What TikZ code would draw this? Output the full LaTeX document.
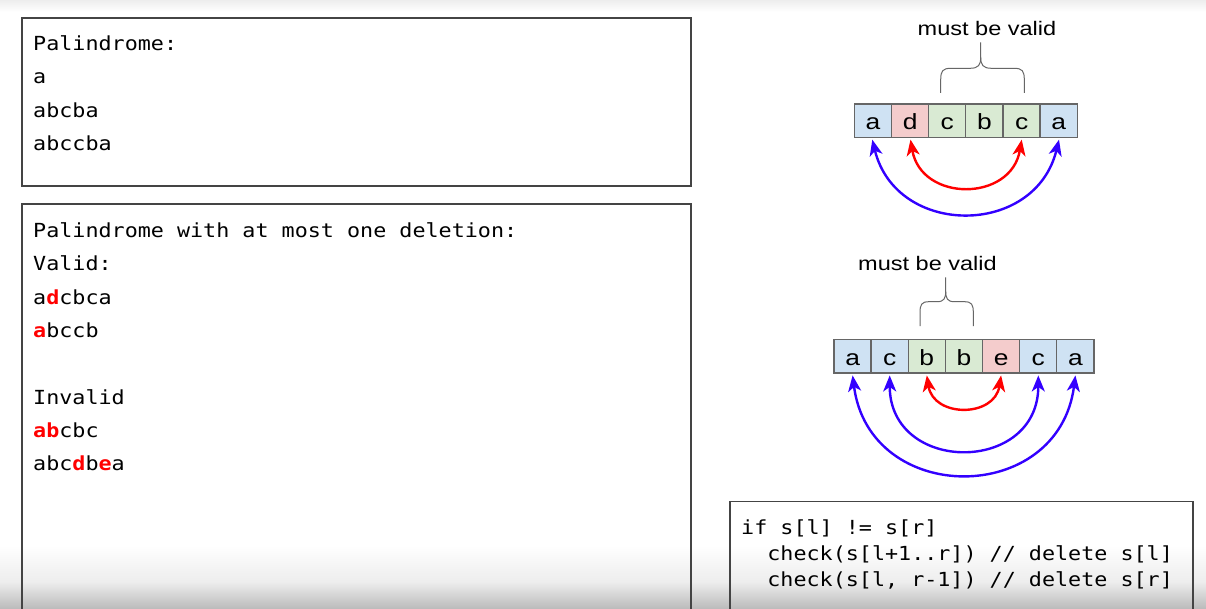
\documentclass[tikz,border=0pt]{standalone}
\usepackage{fontspec}
\usetikzlibrary{arrows.meta,calc}
\newfontfamily\monof[FakeStretch=1.12]{DejaVu Sans Mono}
\newfontfamily\arf[FakeStretch=1.2]{Liberation Sans}
\definecolor{boxline}{HTML}{444444}
\definecolor{cblue}{HTML}{CFE2F3}
\definecolor{cpink}{HTML}{F4CCCC}
\definecolor{cgreen}{HTML}{D9EAD3}
\definecolor{cellline}{HTML}{666666}
\definecolor{arrblue}{HTML}{3300FF}
\definecolor{arrred}{HTML}{FF0000}
\definecolor{bracec}{HTML}{666666}
\newcommand\ssp{\hphantom{0}}
\newcommand\hl[1]{{\bfseries\color{arrred}#1}}
\begin{document}
\begin{tikzpicture}[x=1pt,y=-1pt,
  mtxt/.style={anchor=base west, inner sep=0pt, font=\monof\fontsize{19.4}{22}\selectfont},
  boxl/.style={draw=boxline, line width=1.3pt},
  cell/.style={draw=cellline, line width=1.3pt, minimum width=37.17pt, minimum height=33.3pt,
    inner sep=0pt, text height=18pt, text depth=0pt, font=\arf\fontsize{22}{24}\selectfont},
  lbl/.style={anchor=base, inner sep=0pt, font=\arf\fontsize{19.6}{22}\selectfont},
  arrow tips/.style={{Stealth[length=16pt,width=13pt,inset=4.5pt]}-{Stealth[length=16pt,width=13pt,inset=4.5pt]}},
  blarr/.style={draw=arrblue, line width=2.4pt, arrow tips},
  rdarr/.style={draw=arrred, line width=2.4pt, arrow tips},
  bracel/.style={draw=bracec, line width=1pt}
]
\useasboundingbox (0,0) rectangle (1206,609);
\fill[white] (0,0) rectangle (1206,609);
\shade[top color=black!7, bottom color=white] (0,0) rectangle (1206,12);
\shade[top color=white, bottom color=black!7] (0,545) rectangle (1206,582);
\shade[top color=black!7, bottom color=black!27] (0,582) rectangle (1206,609);

% box 1
\draw[boxl] (22,18) rectangle (691,186);
\node[mtxt] (p1) at (33,50.7) {Palindrome:};
\node[mtxt] (p2) at (33,84) {a};
\node[mtxt] (p3) at (33,117.3) {abcba};
\node[mtxt] (p4) at (33,150.6) {abccba};

% box 2
\draw[boxl] (22,609) -- (22,204) -- (691,204) -- (691,609);
\node[mtxt] (q1) at (33,237.7) {Palindrome\ssp with\ssp at\ssp most\ssp one\ssp deletion:};
\node[mtxt] (q2) at (33,271) {Valid:};
\node[mtxt] (q3) at (33,304.3) {a\hl{d}cbca};
\node[mtxt] (q4) at (33,337.6) {\hl{a}bccb};
\node[mtxt] (q5) at (33,404.2) {Invalid};
\node[mtxt] (q6) at (33,437.5) {\hl{ab}cbc};
\node[mtxt] (q7) at (33,470.8) {abc\hl{d}b\hl{e}a};

% code box
\draw[boxl] (730,609) -- (730,501.7) -- (1193,501.7) -- (1193,609);
\node[mtxt] (c1) at (741,534) {if\ssp s[l]\ssp !=\ssp s[r]};
\node[mtxt] (c2) at (741,560) {\ssp\ssp check(s[l+1..r])\ssp //\ssp delete\ssp s[l]};
\node[mtxt] (c3) at (741,586) {\ssp\ssp check(s[l,\ssp r-1])\ssp //\ssp delete\ssp s[r]};

% top array
\node[cell, fill=cblue]  (t1) at (872.9,120.65) {a};
\node[cell, fill=cpink]  (t2) at (910.1,120.65) {d};
\node[cell, fill=cgreen] (t3) at (947.2,120.65) {c};
\node[cell, fill=cgreen] (t4) at (984.4,120.65) {b};
\node[cell, fill=cgreen] (t5) at (1021.6,120.65) {c};
\node[cell, fill=cblue]  (t6) at (1058.7,120.65) {a};
\node[lbl] (tl) at (987,36) {must be valid};
\draw[bracel] (940.7,93) -- (940.7,80) .. controls (940.7,71) and (942.5,68.3) .. (951,68.3)
  -- (970,68.3) .. controls (978.5,68.3) and (980.7,65) .. (980.7,57) -- (980.7,42.3);
\draw[bracel] (1024.3,93) -- (1024.3,80) .. controls (1024.3,71) and (1022.5,68.3) .. (1014,68.3)
  -- (991.5,68.3) .. controls (983,68.3) and (980.7,65) .. (980.7,57);
\draw[rdarr] ($(t2.south)+(0.4,1.7)$) .. controls +(10.7,62.6) and +(-10.7,62.6) .. ($(t5.south)+(0.1,1.7)$);
\draw[blarr] ($(t1.south)+(-0.6,1.7)$) .. controls +(23.8,97.8) and +(-23.8,97.8) .. ($(t6.south)+(0.3,1.7)$);

% bottom array
\node[cell, fill=cblue]  (b1) at (852.6,356.35) {a};
\node[cell, fill=cblue]  (b2) at (889.7,356.35) {c};
\node[cell, fill=cgreen] (b3) at (926.8,356.35) {b};
\node[cell, fill=cgreen] (b4) at (964.0,356.35) {b};
\node[cell, fill=cpink]  (b5) at (1001.1,356.35) {e};
\node[cell, fill=cblue]  (b6) at (1038.3,356.35) {c};
\node[cell, fill=cblue]  (b7) at (1075.4,356.35) {a};
\node[lbl] (bl) at (927.5,270.7) {must be valid};
\draw[bracel] (920,326) -- (920,313) .. controls (920,304.5) and (921.5,301.7) .. (929,301.7)
  -- (937,301.7) .. controls (944,301.7) and (945.7,298.5) .. (945.7,291) -- (945.7,277.3);
\draw[bracel] (973.3,326) -- (973.3,313) .. controls (973.3,304.5) and (971.8,301.7) .. (964.3,301.7)
  -- (954.4,301.7) .. controls (947.4,301.7) and (945.7,298.5) .. (945.7,291);
\draw[rdarr] ($(b3.south)+(0,1.8)$) .. controls +(6.6,42.4) and +(-6.6,42.4) .. ($(b5.south)+(0,1.8)$);
\draw[blarr] ($(b2.south)+(0,1.8)$) .. controls +(0,98.9) and +(0,98.9) .. ($(b6.south)+(0,1.8)$);
\draw[blarr] ($(b1.south)+(0,1.8)$) .. controls +(16.8,131.1) and +(-16.8,131.1) .. ($(b7.south)+(0,1.8)$);
\end{tikzpicture}
\end{document}
